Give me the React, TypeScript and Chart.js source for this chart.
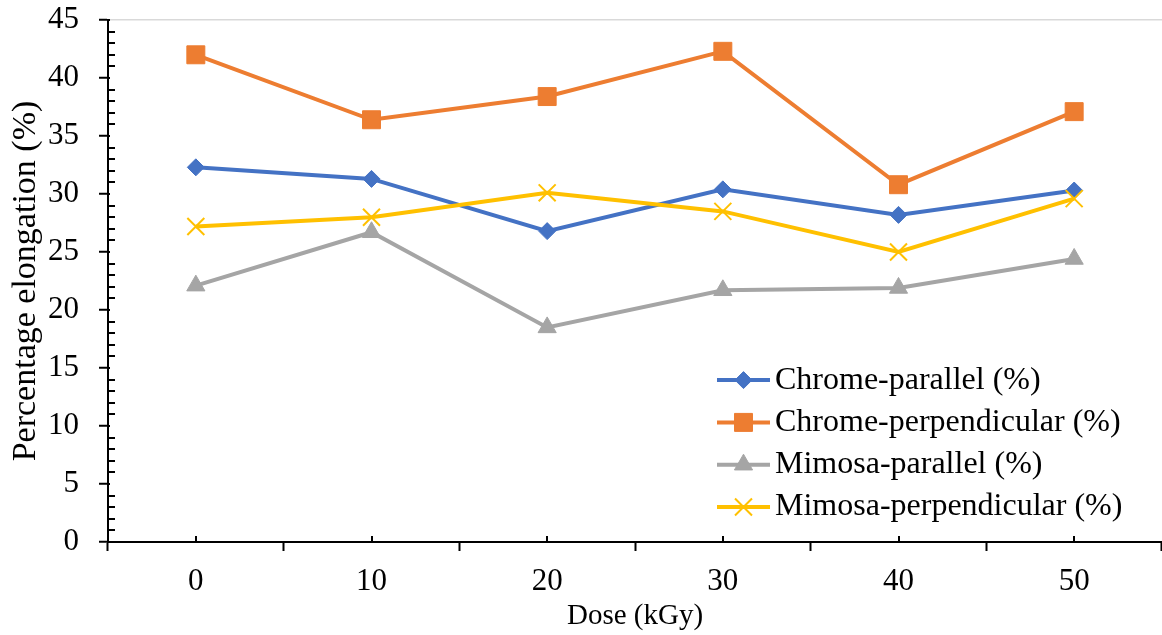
import React, { useEffect, useRef } from "react";
import { Chart, registerables } from "chart.js";
import { drawPoint } from "chart.js/helpers";

Chart.register(...registerables);

// Irradiation dose categories (kGy)
const doses = ["0", "10", "20", "30", "40", "50"];

// Percentage elongation per series
const chromeParallel = [32.3, 31.3, 26.8, 30.4, 28.2, 30.3];
const chromePerpendicular = [42.0, 36.4, 38.4, 42.3, 30.8, 37.1];
const mimosaParallel = [22.1, 26.7, 18.5, 21.7, 21.9, 24.4];
const mimosaPerpendicular = [27.2, 28.0, 30.1, 28.5, 25.0, 29.6];

const seriesLabels = [
  "Chrome-parallel (%)",
  "Chrome-perpendicular (%)",
  "Mimosa-parallel (%)",
  "Mimosa-perpendicular (%)",
];

const Y_MIN = 0;
const Y_MAX = 45;
const Y_STEP = 5;

const SERIF = '"Liberation Serif", "Times New Roman", serif';

// Minor tick marks on the value axis and category-centre marks on the dose axis
const axisMarks = {
  id: "axisMarks",
  afterDraw(chart: any) {
    const { ctx, chartArea, scales } = chart;
    const ys = scales.y;
    const xs = scales.x;
    ctx.save();
    ctx.strokeStyle = "#000";
    ctx.lineWidth = 2;
    ctx.beginPath();
    for (let v = Y_MIN; v <= Y_MAX; v += 1) {
      const py = Math.round(ys.getPixelForValue(v));
      ctx.moveTo(chartArea.left, py);
      ctx.lineTo(chartArea.left + (v % Y_STEP === 0 ? 2 : 7), py);
    }
    for (let i = 0; i < doses.length; i++) {
      const px = Math.round(xs.getPixelForValue(i));
      ctx.moveTo(px, chartArea.bottom);
      ctx.lineTo(px, chartArea.bottom - 6);
    }
    ctx.stroke();
    ctx.restore();
  },
};

// Legend drawn inside the plot area, lower right, with line + marker samples
const insideLegend = {
  id: "insideLegend",
  afterDraw(chart: any) {
    const { ctx, chartArea } = chart;
    const x0 = chartArea.right - 445;
    const yLast = chartArea.bottom - 35;
    const row = 42.3;
    const n = chart.data.datasets.length;
    ctx.save();
    ctx.font = `32px ${SERIF}`;
    ctx.textBaseline = "middle";
    ctx.textAlign = "left";
    chart.data.datasets.forEach((ds: any, i: number) => {
      const y = yLast - (n - 1 - i) * row;
      ctx.strokeStyle = ds.borderColor;
      ctx.lineWidth = ds.borderWidth;
      ctx.beginPath();
      ctx.moveTo(x0, y);
      ctx.lineTo(x0 + 53, y);
      ctx.stroke();
      ctx.fillStyle = ds.pointBackgroundColor;
      ctx.strokeStyle = ds.pointBorderColor;
      ctx.lineWidth = ds.pointBorderWidth;
      drawPoint(
        ctx,
        {
          pointStyle: ds.pointStyle,
          radius: ds.pointRadius,
          rotation: 0,
          borderWidth: ds.pointBorderWidth,
        },
        x0 + 26.5,
        y
      );
      ctx.fillStyle = "#000";
      ctx.fillText(ds.label, x0 + 58, y);
    });
    ctx.restore();
  },
};

function makeSeries(
  label: string,
  data: number[],
  color: string,
  pointStyle: string,
  radius: number,
  pointBorderWidth: number,
  order: number
) {
  return {
    label,
    data,
    borderColor: color,
    backgroundColor: color,
    borderWidth: 4,
    pointStyle,
    pointRadius: radius,
    pointHoverRadius: radius,
    pointBackgroundColor: color,
    pointBorderColor: color,
    pointBorderWidth,
    tension: 0,
    fill: false,
    clip: false,
    order,
  };
}

export default function App() {
  const canvasRef = useRef<HTMLCanvasElement | null>(null);

  useEffect(() => {
    const canvas = canvasRef.current;
    if (!canvas) return;

    const chart = new Chart(canvas, {
      type: "line",
      data: {
        labels: doses,
        datasets: [
          makeSeries(seriesLabels[0], chromeParallel, "#4472C4", "rectRot", 8.5, 1, 3),
          makeSeries(seriesLabels[1], chromePerpendicular, "#ED7D31", "rect", 12.7, 1, 2),
          makeSeries(seriesLabels[2], mimosaParallel, "#A5A5A5", "triangle", 10.5, 1, 1),
          makeSeries(seriesLabels[3], mimosaPerpendicular, "#FFC000", "crossRot", 12, 2, 0),
        ] as any,
      },
      options: {
        responsive: false,
        animation: false,
        layout: { autoPadding: false, padding: { top: 20, left: 0, right: 0, bottom: 0 } },
        plugins: {
          legend: { display: false },
          tooltip: { enabled: false },
        },
        scales: {
          x: {
            type: "category",
            offset: true,
            grid: {
              offset: true,
              drawOnChartArea: false,
              drawTicks: true,
              tickLength: 9,
              tickColor: "#000",
              tickWidth: 2,
            },
            border: { display: true, color: "#000", width: 2 },
            ticks: {
              color: "#000",
              font: { family: SERIF, size: 31, lineHeight: 1 },
              padding: 15,
              maxRotation: 0,
              autoSkip: false,
            },
            title: {
              display: true,
              text: "Dose (kGy)",
              color: "#000",
              font: { family: SERIF, size: 29, lineHeight: 1 },
              padding: { top: 0, bottom: 4 },
            },
            afterFit(scale: any) {
              scale.height = 93;
              scale.paddingLeft = 0;
              scale.paddingRight = 0;
            },
          },
          y: {
            type: "linear",
            min: Y_MIN,
            max: Y_MAX,
            ticks: {
              stepSize: Y_STEP,
              color: "#000",
              font: { family: SERIF, size: 31, lineHeight: 1 },
              padding: 20,
            },
            grid: {
              drawOnChartArea: true,
              color: (c: any) => (c.tick && c.tick.value === Y_MAX ? "#D9D9D9" : "rgba(0,0,0,0)"),
              lineWidth: 1.5,
              drawTicks: true,
              tickLength: 9,
              tickColor: "#000",
              tickWidth: 2,
            },
            border: { display: true, color: "#000", width: 2 },
            title: {
              display: true,
              text: "Percentage elongation (%)",
              color: "#000",
              font: { family: SERIF, size: 34, lineHeight: 1 },
              padding: { top: 9, bottom: 0 },
            },
            afterFit(scale: any) {
              scale.width = 108;
              scale.paddingTop = 0;
              scale.paddingBottom = 0;
            },
          },
        },
      },
      plugins: [axisMarks, insideLegend],
    });

    return () => chart.destroy();
  }, []);

  return (
    <div style={{ position: "fixed", left: 0, top: 0, width: 1162, height: 635, background: "#fff" }}>
      <canvas ref={canvasRef} width={1162} height={635} />
    </div>
  );
}
